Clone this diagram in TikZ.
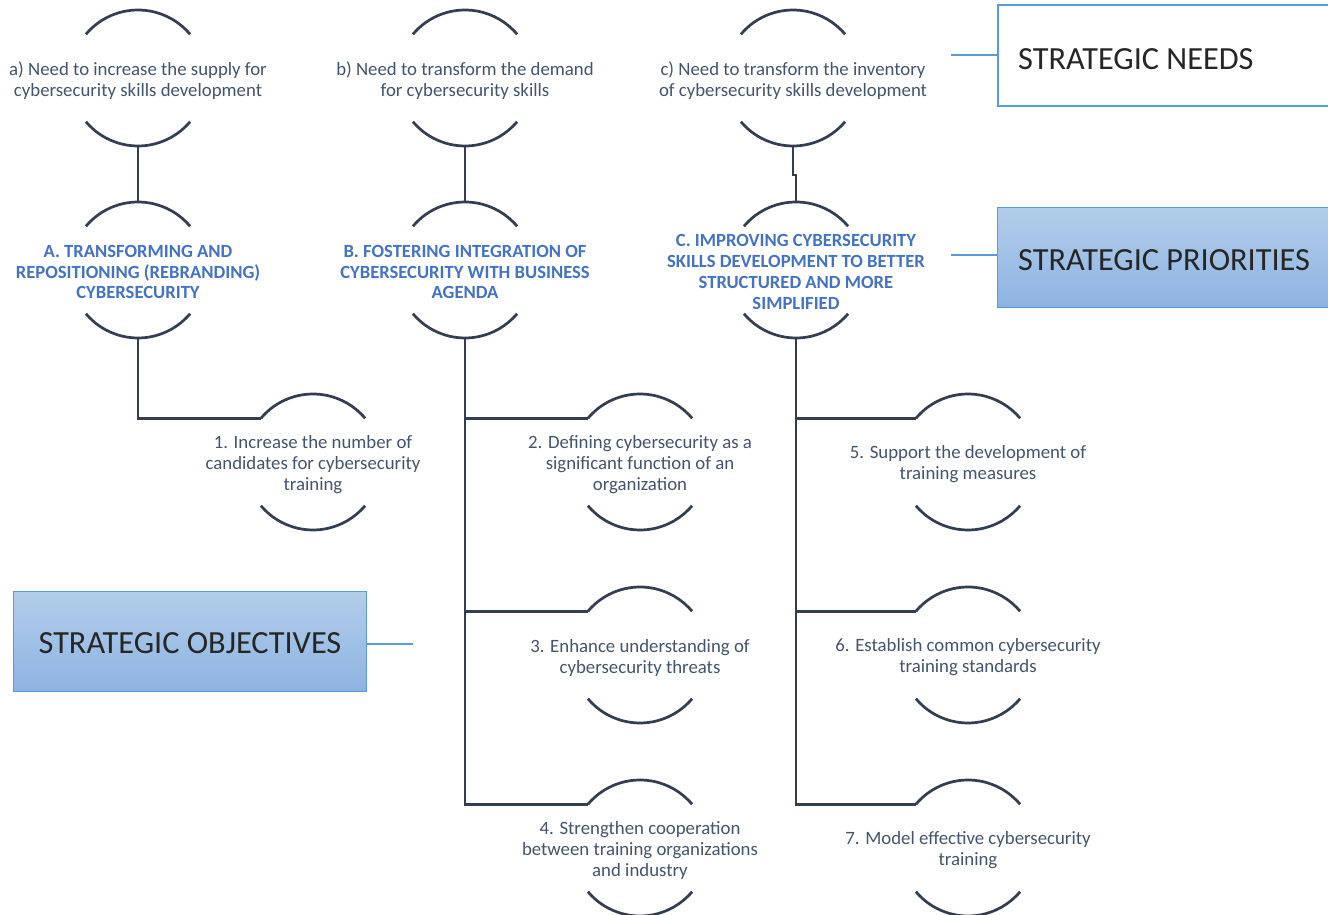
\documentclass[tikz,border=0pt]{standalone}
\usepackage{fontspec}
\setmainfont{Carlito}
\definecolor{linecol}{HTML}{333F50}
\definecolor{txtcol}{HTML}{44546A}
\definecolor{prcol}{HTML}{4472C4}
\definecolor{legborder}{HTML}{5B9BD5}
\definecolor{legtop}{HTML}{B3CDEA}
\definecolor{legbot}{HTML}{8DB3E2}
\definecolor{legtext}{HTML}{262626}

% upper and lower caps of a bracket frame
\newcommand\drawcaps[1]{%
  \draw[arcline] (#1.140) arc[start angle=140,end angle=40,radius=68pt];
  \draw[arcline] (#1.220) arc[start angle=220,end angle=320,radius=68pt];}

\begin{document}
\begin{tikzpicture}[x=1pt,y=1pt,
  frame/.style={circle,minimum size=136pt,inner sep=0pt,outer sep=0pt},
  arcline/.style={draw=linecol,line width=2.7pt},
  link/.style={draw=linecol,line width=2.7pt},
  txt/.style={align=center,text=txtcol,inner sep=0pt,yshift=-2.5pt,
    font=\fontsize{18.8}{21}\selectfont},
  prio/.style={align=center,text=prcol,inner sep=0pt,yshift=-2pt,
    font=\fontsize{18.6}{20.7}\bfseries\selectfont},
  legfill/.style={draw=legborder,line width=1pt,shading=axis,
    top color=legtop,bottom color=legbot},
  legplain/.style={draw=legborder,line width=2pt,fill=white},
  legtxt/.style={text=legtext,font=\fontsize{32.3}{36}\selectfont,inner sep=0pt},
  tick/.style={draw=legborder,line width=1.2pt}]
\useasboundingbox (0,0) rectangle (1328,915);

% strategic needs
\node[frame] (na) at (138,837) {};
\node[frame] (nb) at (465,837) {};
\node[frame] (nc) at (793,837) {};
\node[txt] (na-t) at (na) {a) Need to increase the supply for\\cybersecurity skills development};
\node[txt] (nb-t) at (nb) {b) Need to transform the demand\\for cybersecurity skills};
\node[txt] (nc-t) at (nc) {c) Need to transform the inventory\\of cybersecurity skills development};

% strategic priorities
\node[frame] (pA) at (138,645) {};
\node[frame] (pB) at (465,645) {};
\node[frame] (pC) at (796,645) {};
\node[prio] (pA-t) at (pA) {A. TRANSFORMING AND\\REPOSITIONING (REBRANDING)\\CYBERSECURITY};
\node[prio] (pB-t) at (pB) {B. FOSTERING INTEGRATION OF\\CYBERSECURITY WITH BUSINESS\\AGENDA};
\node[prio] (pC-t) at (pC) {C. IMPROVING CYBERSECURITY\\SKILLS DEVELOPMENT TO BETTER\\STRUCTURED AND MORE\\SIMPLIFIED};

% strategic objectives
\node[frame] (o1) at (313,453) {};
\node[frame] (o2) at (640,453) {};
\node[frame] (o3) at (640,260) {};
\node[frame] (o4) at (640,67) {};
\node[frame] (o5) at (968,453) {};
\node[frame] (o6) at (968,260) {};
\node[frame] (o7) at (968,67) {};
\node[txt] (o1-t) at (o1) {1. Increase the number of\\candidates for cybersecurity\\training};
\node[txt] (o2-t) at (o2) {2. Defining cybersecurity as a\\significant function of an\\organization};
\node[txt] (o3-t) at (o3) {3. Enhance understanding of\\cybersecurity threats};
\node[txt] (o4-t) at (o4) {4. Strengthen cooperation\\between training organizations\\and industry};
\node[txt] (o5-t) at (o5) {5. Support the development of\\training measures};
\node[txt] (o6-t) at (o6) {6. Establish common cybersecurity\\training standards};
\node[txt] (o7-t) at (o7) {7. Model effective cybersecurity\\training};

\foreach \n in {na,nb,nc,pA,pB,pC,o1,o2,o3,o4,o5,o6,o7} {\drawcaps{\n}}

% connectors
\draw[link] (na.south) -- (pA.north);
\draw[link] (nb.south) -- (pB.north);
\draw[link] (nc.south) -- ++(0,-29) -| (pC.north);
\draw[link] (pA.south) |- (o1.140);
\draw[link] (pB.south) |- (o2.140);
\draw[link] (pB.south) |- (o3.140);
\draw[link] (pB.south) |- (o4.140);
\draw[link] (pC.south) |- (o5.140);
\draw[link] (pC.south) |- (o6.140);
\draw[link] (pC.south) |- (o7.140);

% legend boxes
\node[legplain,minimum width=340pt,minimum height=101pt,anchor=south west] (lN) at (997,808) {};
\node[legtxt,anchor=west] (lN-t) at (1018,856) {STRATEGIC NEEDS};
\coordinate (lN-end) at (951,860);
\draw[tick] (lN-end) -- (lN.west |- lN-end);

\node[legfill,minimum width=340pt,minimum height=100pt,anchor=south west] (lP) at (997,607) {};
\node[legtxt,anchor=west] (lP-t) at (1018,655) {STRATEGIC PRIORITIES};
\coordinate (lP-end) at (951,660);
\draw[tick] (lP-end) -- (lP.west |- lP-end);

\node[legfill,minimum width=353pt,minimum height=100pt,anchor=south west] (lO) at (13,223) {};
\node[legtxt,yshift=-2pt] (lO-t) at (lO) {STRATEGIC OBJECTIVES};
\coordinate (lO-end) at (413,271);
\draw[tick] (lO.east |- lO-end) -- (lO-end);
\end{tikzpicture}
\end{document}
